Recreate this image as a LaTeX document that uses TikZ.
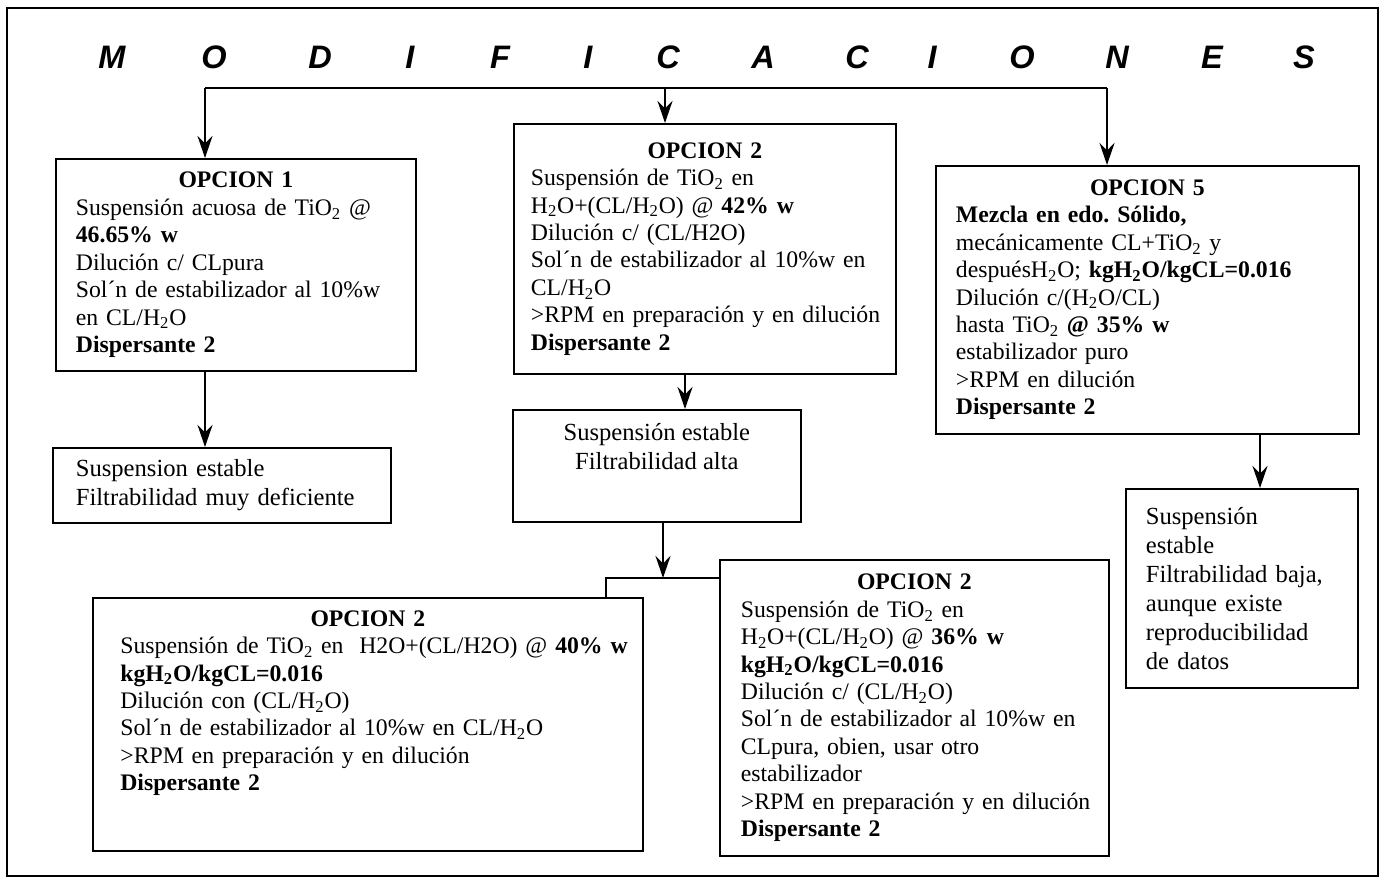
\documentclass[tikz,border=0pt]{standalone}
\usepackage{fontspec}
\setmainfont{Liberation Serif}
\newfontfamily\titlefont{Liberation Sans}
\usepackage{tikz}
\usetikzlibrary{positioning,arrows.meta}
\newcommand{\Hdos}{H\textsubscript{2}O}
\newcommand{\Tidos}{TiO\textsubscript{2}}
\frenchspacing

\begin{document}
\begin{tikzpicture}[x=0.02cm,y=-0.02cm,line width=1pt,
  >={Stealth[length=0.44cm,width=0.3cm,inset=0.15cm]},
  opt/.style={draw,anchor=north west,align=left,inner sep=0pt,font=\fontsize{13.5}{15.6}\selectfont},
  res/.style={draw,anchor=north west,align=left,inner sep=0pt,font=\fontsize{14}{16.5}\selectfont},
  ttl/.style={font=\titlefont\fontsize{18.5}{18.5}\selectfont\bfseries\itshape}]
\useasboundingbox (0,0) rectangle (1381,888);
\draw (7,8) rectangle (1378,876);
% titulo
\foreach \l/\x [count=\i] in {M/112,O/214,D/320,I/410,F/500,I/588,C/668,A/763,C/857,I/932,O/1022,N/1117,E/1212,S/1304}
  \node[ttl] (m\i) at (\x,57) {\l};
\coordinate (busL) at (205,88); \coordinate (busC) at (665,88); \coordinate (busR) at (1107,88);
% opciones
\node[opt,minimum width=7.2cm,minimum height=4.24cm,text width=6.4cm] (op1) at (55,158)
  {\makebox[\hsize]{\textbf{OPCION 1}}\\ Suspensión acuosa de \Tidos{} @\\ \textbf{46.65\% w}\\
   Dilución c/ CLpura\\ Sol´n de estabilizador al 10\%w\\ en CL/\Hdos\\ \textbf{Dispersante 2}};
\node[res,minimum width=6.76cm,minimum height=1.5cm,text width=5.84cm] (res1) at (52,447)
  {Suspension estable\\ Filtrabilidad muy deficiente};
\node[opt,minimum width=7.64cm,minimum height=5cm,text width=6.96cm] (op2) at (513,123)
  {\makebox[\hsize]{\textbf{OPCION 2}}\\ Suspensión de \Tidos{} en\\ \Hdos+(CL/\Hdos) @ \textbf{42\% w}\\
   Dilución c/ (CL/H2O)\\ Sol´n de estabilizador al 10\%w en\\ CL/\Hdos\\
   \mbox{>RPM en preparación y en dilución}\\ \textbf{Dispersante 2}};
\node[res,align=center,minimum width=5.76cm,minimum height=2.24cm] (resm) at (512,409)
  {Suspensión estable\\ Filtrabilidad alta\\[0.2cm]\mbox{}};
\node[opt,minimum width=8.46cm,minimum height=5.36cm,text width=7.66cm] (op5) at (935,165)
  {\makebox[\hsize]{\textbf{OPCION 5}}\\ \textbf{Mezcla en edo. Sólido,}\\ mecánicamente CL+\Tidos{} y\\
   después\Hdos; \textbf{kg\Hdos/kgCL=0.016}\\ Dilución c/(\Hdos/CL)\\ hasta \Tidos{} \textbf{@ 35\% w}\\
   estabilizador puro\\ >RPM en dilución\\ \textbf{Dispersante 2}};
\node[res,minimum width=4.64cm,minimum height=3.98cm,text width=3.84cm] (res5) at (1125,488)
  {Suspensión\\ estable\\ Filtrabilidad baja,\\ aunque existe\\ reproducibilidad\\ de datos};
\node[opt,minimum width=11cm,minimum height=5.06cm,text width=9.9cm] (op2a) at (92,597)
  {\makebox[\hsize]{\textbf{OPCION 2}}\\ \mbox{Suspensión de \Tidos{} en\ \ H2O+(CL/H2O) @ \textbf{40\% w}}\\
   \textbf{kg\Hdos/kgCL=0.016}\\ Dilución con (CL/\Hdos)\\ Sol´n de estabilizador al 10\%w en CL/\Hdos\\
   >RPM en preparación y en dilución\\ \textbf{Dispersante 2}\\[0.4cm]\mbox{}};
\node[opt,minimum width=7.78cm,minimum height=5.92cm,text width=6.94cm] (op2b) at (719,559)
  {\makebox[\hsize]{\textbf{OPCION 2}}\\ Suspensión de \Tidos{} en\\ \Hdos+(CL/\Hdos) @ \textbf{36\% w}\\
   \textbf{kg\Hdos/kgCL=0.016}\\ Dilución c/ (CL/\Hdos)\\ Sol´n de estabilizador al 10\%w en\\
   CLpura, obien, usar otro\\ estabilizador\\ \mbox{>RPM en preparación y en dilución}\\ \textbf{Dispersante 2}};
% conexiones
\coordinate (d2) at (685,0); \coordinate (d5) at (1260,0);
\coordinate (split) at (663,578); \coordinate (jL) at (606,578);
\draw (busL) -- (busR);
\draw[->] (busL) -- (busL |- op1.north);
\draw[->] (busC) -- (busC |- op2.north);
\draw[->] (busR) -- (busR |- op5.north);
\draw[->] (busL |- op1.south) -- (busL |- res1.north);
\draw[->] (d2 |- op2.south) -- (d2 |- resm.north);
\draw[->] (split |- resm.south) -- (split);
\draw (op2b.west |- split) -- (jL) -- (jL |- op2a.north);
\draw[->] (d5 |- op5.south) -- (d5 |- res5.north);
\end{tikzpicture}
\end{document}
